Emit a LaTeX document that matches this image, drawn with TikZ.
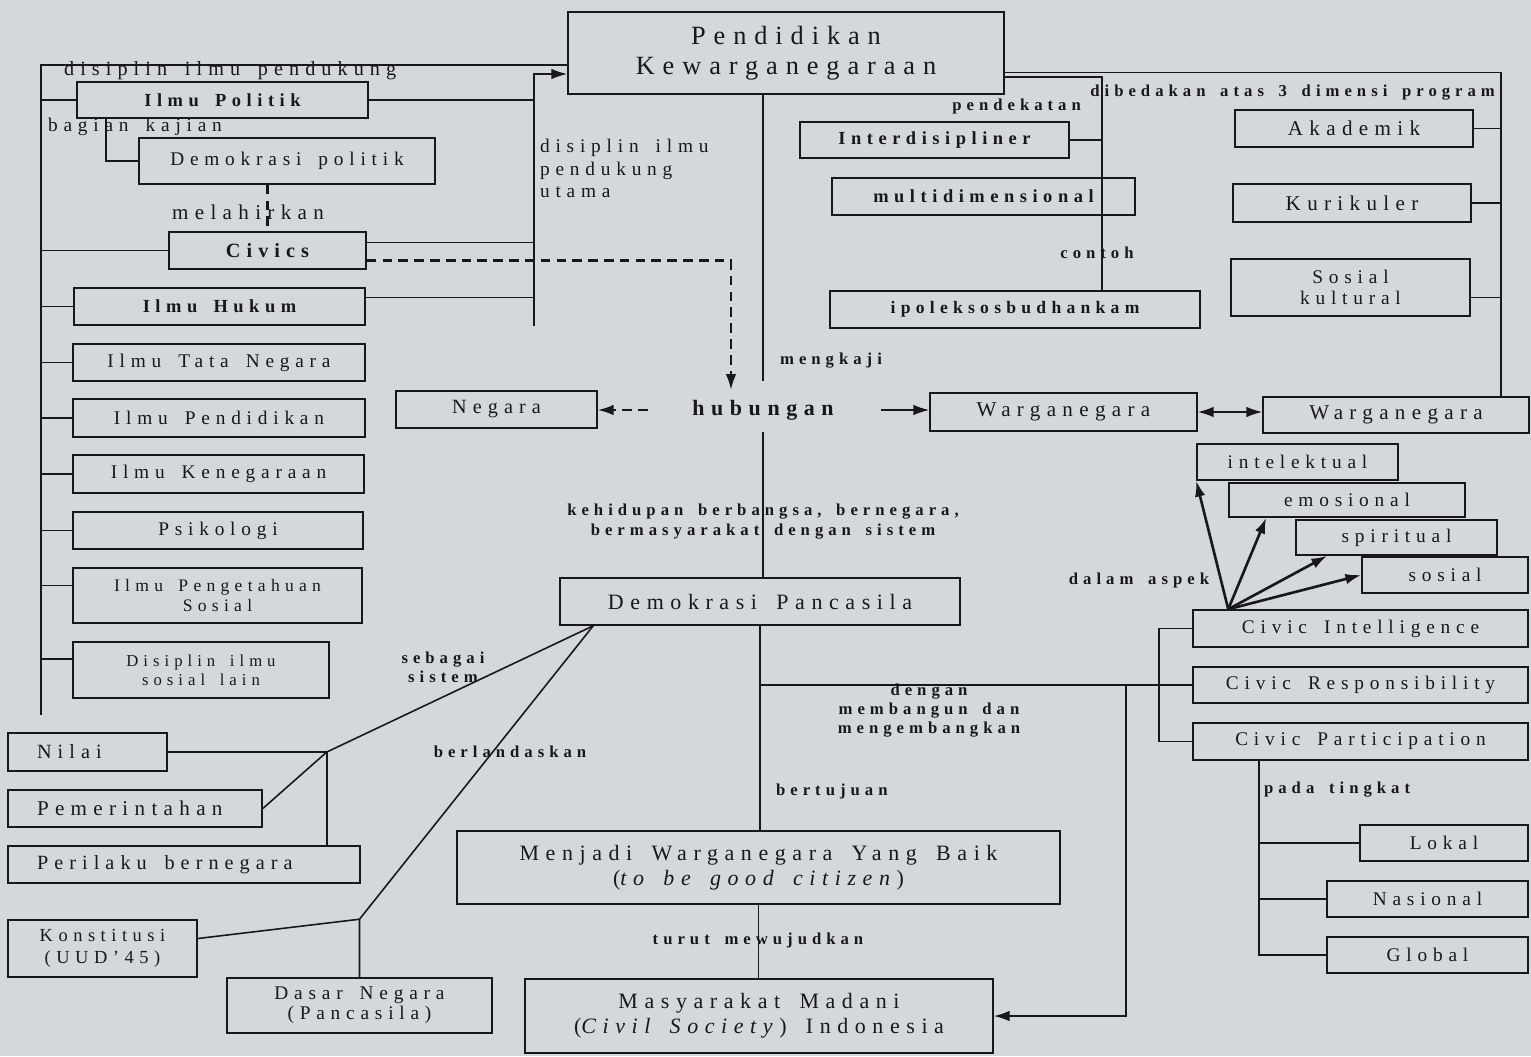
\documentclass[tikz,border=0pt]{standalone}
\usepackage{fontspec}
\setmainfont{Liberation Serif}[LetterSpace=30, WordSpace=1.6]
\usetikzlibrary{arrows.meta,calc}
\definecolor{paper}{RGB}{212,215,220}
\definecolor{ink}{RGB}{24,24,26}

\tikzset{
  box/.style={draw=ink, line width=0.9pt, inner sep=0pt, align=center, text=ink, font=\fontsize{11}{11.5}\selectfont},
  bbox/.style={box, font=\bfseries\fontsize{10.5}{12}\selectfont},
  lbox/.style={box, align=flush left, inner xsep=0.58cm, font=\fontsize{11.5}{13}\selectfont},
  sz/.style 2 args={minimum width=#1*0.02cm, minimum height=#2*0.02cm},
  lbl/.style={text=ink, inner sep=1pt, align=center, font=\bfseries\fontsize{9.5}{11}\selectfont},
  txt/.style={text=ink, inner sep=1pt, align=center, font=\fontsize{11.5}{13}\selectfont},
  ln/.style={draw=ink, line width=0.9pt},
  thk/.style={draw=ink, line width=1.5pt},
  dsh/.style={draw=ink, line width=1.2pt, dash pattern=on 5.5pt off 3.5pt},
  tip/.style={-{Latex[length=9pt,width=6pt]}},
  dtip/.style={{Latex[length=9pt,width=6pt]}-{Latex[length=9pt,width=6pt]}},
}

\begin{document}
\begin{tikzpicture}[x=0.02cm, y=-0.02cm]
\fill[paper] (0,0) rectangle (1531,1056);
\useasboundingbox (0,0) rectangle (1531,1056);

\node[box, sz={436}{82}, font=\fontsize{15}{17}\selectfont] (p0) at (786,53) {Pendidikan\\Kewarganegaraan};

\node[bbox, sz={291}{36}] (a1) at (222.5,100) {Ilmu Politik};
\node[box, sz={296}{46}] (a2) at (287,161) {Demokrasi politik};
\node[bbox, sz={197}{37}, font=\bfseries\fontsize{11.5}{13}\selectfont] (a3) at (267.5,250.5) {Civics};
\node[bbox, sz={291}{37}] (a4) at (219.5,306.5) {Ilmu Hukum};
\node[box, sz={292}{37}] (a5) at (219,362.5) {Ilmu Tata Negara};
\node[box, sz={292}{38}] (a6) at (219,418) {Ilmu Pendidikan};
\node[box, sz={291}{38}] (a7) at (218.5,474) {Ilmu Kenegaraan};
\node[box, sz={290}{37}] (a8) at (218,530.5) {Psikologi};
\node[box, sz={289}{55}, font=\fontsize{10}{11}\selectfont] (a9) at (217.5,595.5) {Ilmu Pengetahuan\\Sosial};
\node[box, sz={256}{56}, font=\fontsize{9.5}{11}\selectfont] (a10) at (201,670) {Disiplin ilmu\\sosial lain};

\node[bbox, sz={269}{36}] (b1) at (934.5,140) {Interdisipliner};
\node[bbox, sz={303}{37}] (b2) at (983.5,196.5) {multidimensional};
\node[bbox, sz={370}{37}, font=\bfseries\fontsize{10}{12}\selectfont] (b3) at (1015,309.5) {ipoleksosbudhankam};

\node[box, sz={238}{37}, font=\fontsize{12}{13}\selectfont] (c1) at (1354,128.5) {Akademik};
\node[box, sz={238}{38}, font=\fontsize{12}{13}\selectfont] (c2) at (1352,203) {Kurikuler};
\node[box, sz={239}{57}, font=\fontsize{11}{12}\selectfont] (c3) at (1350.5,287.5) {Sosial\\kultural};

\node[box, sz={201}{37}, font=\fontsize{11.5}{13}\selectfont] (n1) at (496.5,409.5) {Negara};
\node[lbl, font=\bfseries\fontsize{12.5}{14}\selectfont] (h) at (763,410) {hubungan};
\node[box, sz={267}{38}, font=\fontsize{12}{13}\selectfont] (w1) at (1063.5,412) {Warganegara};
\node[box, sz={266}{36}, font=\fontsize{12}{13}\selectfont] (w2) at (1396,415) {Warganegara};

\node[box, sz={201}{36}] (d1) at (1297.5,462) {intelektual};
\node[box, sz={236}{34}] (d2) at (1347,500) {emosional};
\node[box, sz={201}{35}] (d3) at (1396.5,537.5) {spiritual};
\node[box, sz={166}{36}] (d4) at (1445,575) {sosial};

\node[box, sz={335}{37}] (e1) at (1360.5,628.5) {Civic Intelligence};
\node[box, sz={335}{36}] (e2) at (1360.5,685) {Civic Responsibility};
\node[box, sz={335}{37}] (e3) at (1360.5,741.5) {Civic Participation};

\node[box, sz={168}{36}] (f1) at (1444,843) {Lokal};
\node[box, sz={201}{36}] (f2) at (1427.5,899) {Nasional};
\node[box, sz={201}{36}] (f3) at (1427.5,955) {Global};

\node[box, sz={400}{47}, font=\fontsize{12.5}{13}\selectfont] (m1) at (760,601.5) {Demokrasi Pancasila};
\node[box, sz={603}{73}, font=\fontsize{12.5}{14}\selectfont] (m2) at (758.5,867.5) {Menjadi Warganegara Yang Baik\\(\textit{to be good citizen})};
\node[box, sz={468}{74}, font=\fontsize{12.5}{14}\selectfont] (m3) at (759,1016) {Masyarakat Madani\\(\textit{Civil Society}) Indonesia};

\node[lbox, minimum height=38*0.02cm, text width=101*0.02cm] (g1) at (87.5,752) {Nilai};
\node[lbox, minimum height=37*0.02cm, text width=196*0.02cm, font=\fontsize{12}{13}\selectfont] (g2) at (135,808.5) {Pemerintahan};
\node[lbox, minimum height=37*0.02cm, text width=294*0.02cm] (g3) at (184,864.5) {Perilaku bernegara};
\node[box, sz={189}{57}, font=\fontsize{10.5}{12.5}\selectfont] (g4) at (102.5,948.5) {Konstitusi\\(UUD'45)};
\node[box, sz={265}{55}, font=\fontsize{11}{11.5}\selectfont] (g5) at (359.5,1005.5) {Dasar\ Negara\\(Pancasila)};

\coordinate (s0) at ($(a1.north west)+(-35,-16)$);
\coordinate (s1) at (s0 |- 0,715);
\coordinate (k0) at ($(a1.east)+(165,-26)$);
\coordinate (k1) at (k0 |- a4.south);
\coordinate (q0) at ($(b1.east)+(32,-63)$);
\coordinate (r0) at ($(c1.east)+(27,-56)$);
\coordinate (j1) at ($(e2.west)+(-66,0)$);
\coordinate (t0) at ($(e3.south west)+(67,0)$);
\coordinate (u1) at ($(g1.east)+(159,0)$);
\coordinate (u2) at ($(g5.north)+(0,-58)$);
\coordinate (dpf) at ($(m1.south west)+(34,0)$);
\coordinate (e0) at ($(e1.north west)+(36,0)$);

\draw[ln] (s1) -- (s0) -- (s0 -| p0.west);
\node[txt, anchor=west] (t1) at (62,71) {disiplin ilmu pendukung};
\foreach \n in {a1,a3,a4,a5,a6,a7,a8}
  \draw[ln] (\n.west) -- (\n.west -| s0);
\draw[ln] ($(a9.west)+(0,-10)$) -- ($(a9.west -| s0)+(0,-10)$);
\draw[ln] ($(a10.west)+(0,-11)$) -- ($(a10.west -| s0)+(0,-11)$);

\draw[ln, tip] (k1) -- (k0) -- (k0 -| p0.west);
\draw[ln] (a1.east) -- (a1.east -| k0);
\draw[ln] ($(a3.east)+(0,-8)$) -- ($(a3.east -| k0)+(0,-8)$);
\draw[ln] ($(a4.east)+(0,-9)$) -- ($(a4.east -| k0)+(0,-9)$);
\node[txt, anchor=north west, align=left, font=\fontsize{11}{12.8}\selectfont] (t2) at (538,137) {disiplin ilmu\\pendukung\\utama};

\draw[ln] ($(a1.south west)+(30,0)$) |- (a2.west);
\node[txt, font=\fontsize{11}{13}\selectfont] (t3) at (135,127) {bagian kajian};
\draw[dsh] (a3.north |- a2.south) -- (a3.north);
\node[txt, font=\fontsize{12}{14}\selectfont] (t4) at (248,212) {melahirkan};

\draw[dsh, tip] ($(a3.east)+(0,10)$) -| ($(h.north)+(-32,-8)$);
\draw[ln] (h |- p0.south) -- ($(h.north)+(0,-17)$);
\node[lbl, anchor=west] (t5) at (778,361) {mengkaji};
\draw[dsh, tip, shorten <=0.85cm] (h.west) -- (h.west -| n1.east);
\draw[ln, tip, shorten <=0.9cm] (h.east) -- (h.east -| w1.west);
\draw[ln, dtip] (w1.east) -- (w1.east -| w2.west);

\draw[ln, shorten <=0.2cm] (h.south) -- (h.south |- m1.north);
\node[lbl, font=\bfseries\fontsize{9.5}{11.4}\selectfont] (t6) at (763,522) {kehidupan berbangsa, bernegara,\\bermasyarakat dengan sistem};

\draw[ln] (q0 -| p0.east) -- (q0) -- (q0 |- b3.north);
\draw[ln] (b1.east) -- (b1.east -| q0);
\node[lbl, anchor=east] (t7) at (1083,106) {pendekatan};
\node[lbl] (t8) at (1097,253) {contoh};

\draw[ln] (r0 -| p0.east) -- (r0) -- (r0 |- w2.north);
\node[lbl, anchor=east] (t9) at (1497,93) {dibedakan atas 3 dimensi program};
\draw[ln] (c1.east) -- (c1.east -| r0);
\draw[ln] (c2.east) -- (c2.east -| r0);
\draw[ln] ($(c3.east)+(0,10)$) -- ($(c3.east -| r0)+(0,10)$);

\draw[ln] (m1.south) -- (m1.south |- m2.north);
\node[lbl, anchor=west] (t10) at (774,791) {bertujuan};
\draw[ln] (m1.south |- e2.west) -- (e2.west);
\node[lbl, font=\bfseries\fontsize{9.5}{10.8}\selectfont] (t11) at (929,711) {dengan\\membangun dan\\mengembangkan};
\draw[ln, tip] (j1) |- (m3.east);
\draw[ln] (m2.south) -- (m2.south |- m3.north);
\node[lbl] (t12) at (758,940) {turut mewujudkan};

\draw[ln] (e1.west) -- ++(-33,0) |- (e3.west);
\draw[thk, tip] (e0) -- (d1.south west);
\draw[thk, tip] (e0) -- ($(d2.south west)+(38,0)$);
\draw[thk, tip] (e0) -- ($(d3.south west)+(32,0)$);
\draw[thk, tip] (e0) -- (d4.west);
\node[lbl] (t13) at (1139,580) {dalam aspek};

\draw[ln] (t0) |- (f3.west);
\draw[ln] (f1.west) -- (f1.west -| t0);
\draw[ln] (f2.west) -- (f2.west -| t0);
\node[lbl, anchor=west] (t14) at (1262,790) {pada tingkat};

\draw[ln] (g1.east) -- (u1) -- (u1 |- g3.north);
\draw[ln] (g2.east) -- (u1) -- (dpf);
\draw[ln] ($(g4.east)+(0,-10)$) -- (u2) -- (g5.north);
\draw[ln] (u2) -- (dpf);
\node[lbl] (t15) at (443,667) {sebagai\\sistem};
\node[lbl] (t16) at (510,752) {berlandaskan};

\end{tikzpicture}
\end{document}
